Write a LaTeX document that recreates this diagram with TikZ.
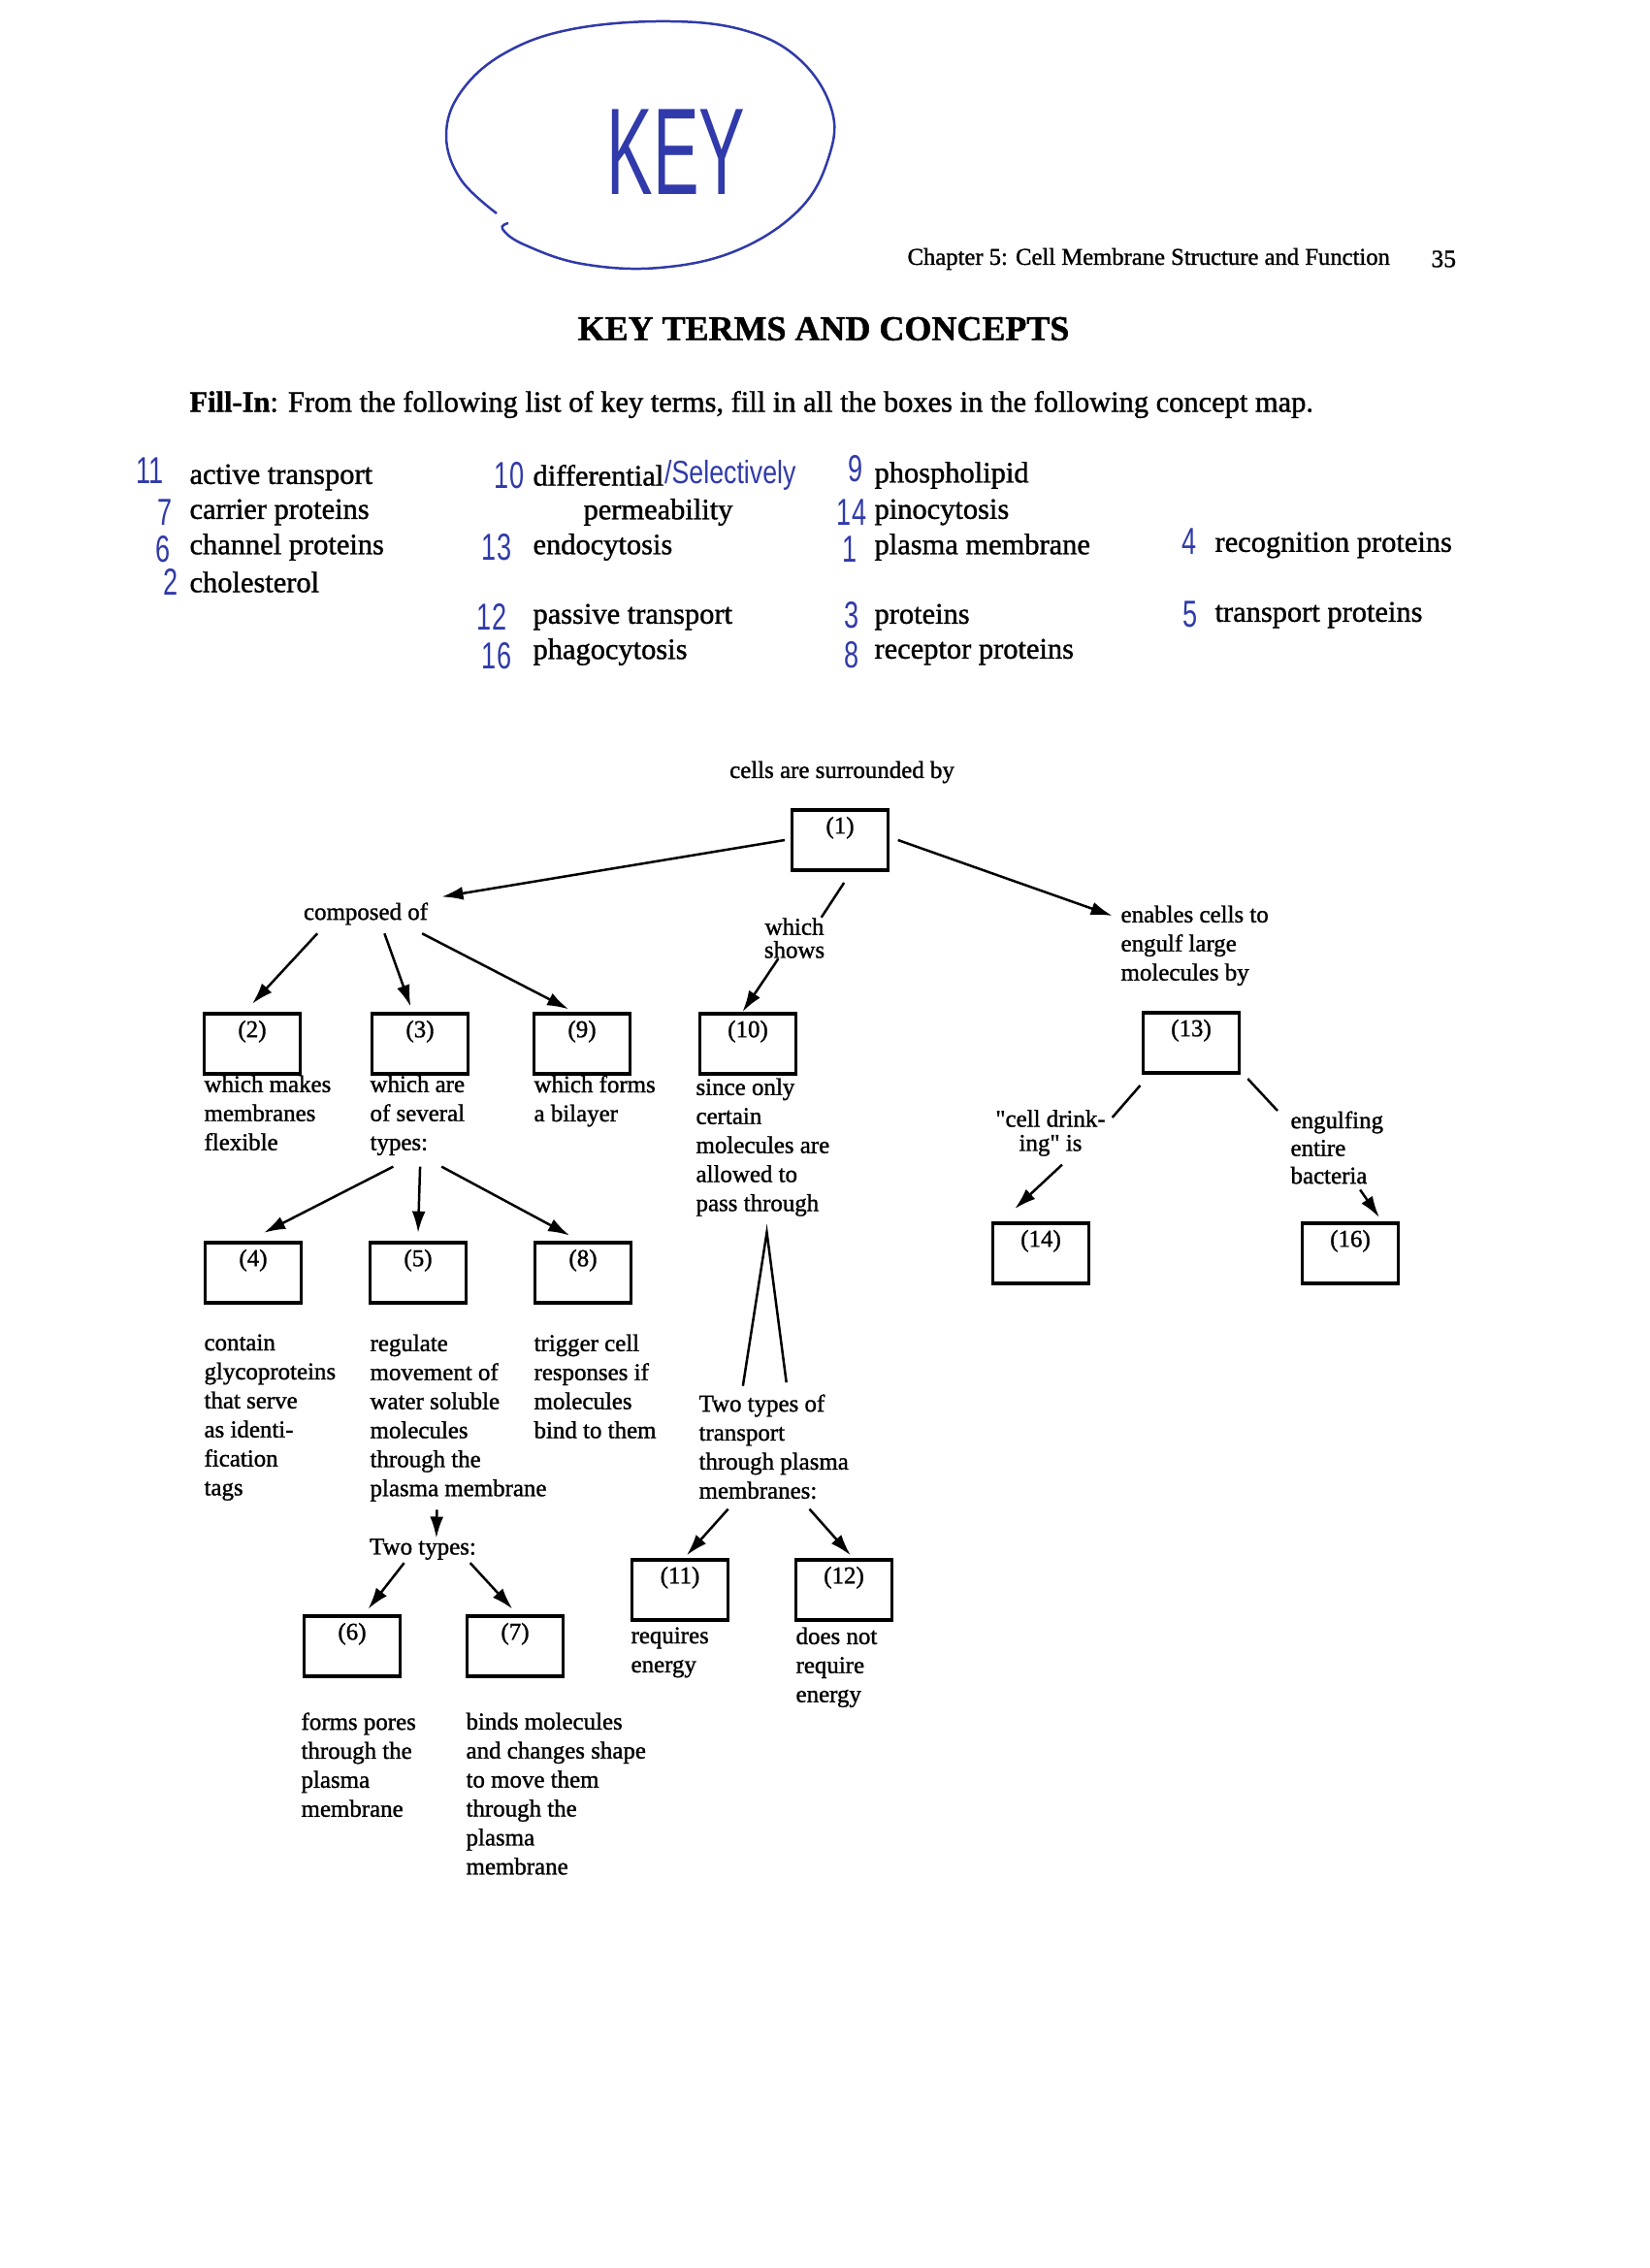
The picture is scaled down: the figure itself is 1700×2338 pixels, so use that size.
\documentclass[tikz,border=0pt]{standalone}
\usepackage{fontspec}
\usepackage{xcolor}
\usetikzlibrary{arrows.meta}
\setmainfont{Liberation Serif}
\newfontfamily\printfont[FakeBold=1.2]{Liberation Serif}
\newfontfamily\handfont{Liberation Sans}
\definecolor{ink}{RGB}{48,58,170}

\begin{document}
\begin{tikzpicture}[x=0.127mm, y=-0.127mm,
  maptext/.style={font=\printfont\fontsize{9}{10.8}\selectfont, inner sep=0pt, align=left, anchor=north west},
  boxnum/.style={font=\printfont\fontsize{9}{10.8}\selectfont, inner sep=0pt, anchor=north, yshift=-3pt},
  blank/.style={draw, line width=1.3pt, minimum width=12.6mm, minimum height=7.9mm, inner sep=0pt, label={[boxnum]north:(#1)}},
  term/.style={font=\printfont\fontsize{11}{13}\selectfont, inner sep=0pt, anchor=west},
  hand/.style={font=\handfont\fontsize{14}{14}\selectfont, text=ink, inner sep=0pt, xscale=0.7},
  link/.style={line width=0.9pt},
  arr/.style={link, -{Latex[length=8pt,width=5pt]}}]
  \useasboundingbox (0,0) rectangle (1700,2338);
  \fill[white] (0,0) rectangle (1700,2338);
  % the KEY mark
  \draw[ink, line width=0.9pt] plot[smooth, tension=0.65] coordinates {(512,220) (475,185) (460,140) (475,95) (520,55) (590,30) (690,22) (770,32) (825,62) (857,112) (855,160) (825,215) (760,258) (680,276) (600,272) (540,252) (518,236) (524,230)};
  \node[hand, font=\handfont\fontsize{46}{46}\selectfont, xscale=0.8] (key) at (697,157) {KEY};
  % page head
  \node[font=\printfont\fontsize{8.9}{11}\selectfont, anchor=west, inner sep=0pt] (chap) at (935,267) {Chapter 5: Cell Membrane Structure and Function};
  \node[font=\printfont\fontsize{9.2}{11}\selectfont, anchor=west, inner sep=0pt] (page) at (1475,267) {35};
  \node[font=\printfont\bfseries\fontsize{13}{15}\selectfont] (title) at (849,339) {KEY TERMS AND CONCEPTS};
  \node[term] (fill) at (195,417) {\textbf{Fill-In}: From the following list of key terms, fill in all the boxes in the following concept map.};
  % list of terms
  \node[term] (tact) at (195,492) {active transport};
  \node[term] (tcar) at (195,528) {carrier proteins};
  \node[term] (tchan) at (195,564) {channel proteins};
  \node[term] (tchol) at (195,600) {cholesterol};
  \node[term] (tdiff) at (549,490) {differential};
  \node[hand, anchor=west, font=\handfont\fontsize{12}{12}\selectfont, xscale=1.15] (sel) at (tdiff.east) {/Selectively};
  \node[term] (tperm) at (601,528) {permeability};
  \node[term] (tendo) at (549,564) {endocytosis};
  \node[term] (tpass) at (549,636) {passive transport};
  \node[term] (tphag) at (549,672) {phagocytosis};
  \node[term] (tphos) at (901,490) {phospholipid};
  \node[term] (tpino) at (901,528) {pinocytosis};
  \node[term] (tplas) at (901,564) {plasma membrane};
  \node[term] (tprot) at (901,636) {proteins};
  \node[term] (trec) at (901,672) {receptor proteins};
  \node[term] (trecog) at (1252,562) {recognition proteins};
  \node[term] (ttrans) at (1252,634) {transport proteins};
  % answers
  \node[hand] (n11) at (155,485) {11};
  \node[hand] (n7) at (170,528) {7};
  \node[hand] (n6) at (168,566) {6};
  \node[hand] (n2) at (176,600) {2};
  \node[hand] (n10) at (525,490) {10};
  \node[hand] (n13) at (512,564) {13};
  \node[hand] (n12) at (507,636) {12};
  \node[hand] (n16) at (512,676) {16};
  \node[hand] (n9) at (882,483) {9};
  \node[hand] (n14) at (878,528) {14};
  \node[hand] (n1) at (876,566) {1};
  \node[hand] (n3) at (878,634) {3};
  \node[hand] (n8) at (878,675) {8};
  \node[hand] (n4) at (1226,558) {4};
  \node[hand] (n5) at (1227,633) {5};
  % concept map
  \node[maptext, anchor=center] (surr) at (868,796) {cells are surrounded by};
  \node[blank=1] (b1) at (866,866) {};
  \node[maptext, anchor=center] (comp) at (377,942) {composed of};
  \node[maptext, anchor=center, align=center, font=\printfont\fontsize{9}{8.6}\selectfont] (shows) at (819,967) {which\\shows};
  \node[maptext] (enab) at (1155,933) {enables cells to\\engulf large\\molecules by};
  \node[blank=2] (b2) at (260,1076) {};
  \node[blank=3] (b3) at (433,1076) {};
  \node[blank=9] (b9) at (600,1076) {};
  \node[blank=10] (b10) at (771,1076) {};
  \node[blank=13] (b13) at (1228,1075) {};
  \node[maptext] (t2) at (210,1108) {which makes\\membranes\\flexible};
  \node[maptext] (t3) at (381,1108) {which are\\of several\\types:};
  \node[maptext] (t9) at (550,1108) {which forms\\a bilayer};
  \node[maptext] (t10) at (717,1111) {since only\\certain\\molecules are\\allowed to\\pass through};
  \node[maptext, anchor=center, align=center, font=\printfont\fontsize{9}{9}\selectfont] (drink) at (1083,1168) {"cell drink-\\ing" is};
  \node[maptext, font=\printfont\fontsize{9}{10.3}\selectfont] (eng) at (1330,1145) {engulfing\\entire\\bacteria};
  \node[blank=14] (b14) at (1073,1292) {};
  \node[blank=16] (b16) at (1392,1292) {};
  \node[blank=4] (b4) at (261,1312) {};
  \node[blank=5] (b5) at (431,1312) {};
  \node[blank=8] (b8) at (601,1312) {};
  \node[maptext] (t4) at (210,1375) {contain\\glycoproteins\\that serve\\as identi-\\fication\\tags};
  \node[maptext] (t5) at (381,1375) {regulate\\movement of\\water soluble\\molecules\\through the\\plasma membrane};
  \node[maptext] (t8) at (550,1375) {trigger cell\\responses if\\molecules\\bind to them};
  \node[maptext] (tt) at (720,1437) {Two types of\\transport\\through plasma\\membranes:};
  \node[blank=11] (b11) at (701,1639) {};
  \node[blank=12] (b12) at (870,1639) {};
  \node[maptext] (t11) at (650,1677) {requires\\energy};
  \node[maptext] (t12) at (820,1677) {does not\\require\\energy};
  \node[maptext, anchor=center] (twot) at (436,1597) {Two types:};
  \node[blank=6] (b6) at (363,1697) {};
  \node[blank=7] (b7) at (531,1697) {};
  \node[maptext] (t6) at (310,1765) {forms pores\\through the\\plasma\\membrane};
  \node[maptext] (t7) at (480,1765) {binds molecules\\and changes shape\\to move them\\through the\\plasma\\membrane};
  % connectors
  \draw[arr] ([xshift=-2pt]b1.west) -- ([xshift=5pt,yshift=2pt]comp.north east);
  \draw[arr] ([xshift=3pt]b1.east) -- ([xshift=-3pt,yshift=-4pt]enab.north west);
  \draw[link] ([xshift=1.5pt,yshift=-4pt]b1.south) -- ([xshift=10pt]shows.north);
  \draw[arr] ([xshift=-6pt]shows.south) -- ([xshift=-2pt]b10.north);
  \draw[arr] ([xshift=-18pt,yshift=-3pt]comp.south) -- ([yshift=3pt]b2.north);
  \draw[arr] ([xshift=7pt,yshift=-3pt]comp.south) -- ([xshift=-3.5pt,yshift=2pt]b3.north);
  \draw[arr] ([xshift=21pt,yshift=-3pt]comp.south) -- ([xshift=-5pt,yshift=1pt]b9.north);
  \draw[arr] ([xshift=-9pt,yshift=-4pt]t3.south) -- ([xshift=4pt,yshift=3pt]b4.north);
  \draw[arr] ([xshift=1pt,yshift=-4pt]t3.south) -- ([yshift=3pt]b5.north);
  \draw[arr] ([xshift=9pt,yshift=-4pt]t3.south) -- ([xshift=-5pt,yshift=2pt]b8.north);
  \draw[link] ([xshift=-19pt,yshift=-4pt]b13.south) -- ([xshift=23pt,yshift=-3pt]drink.north);
  \draw[arr] ([xshift=4.3pt,yshift=-3pt]drink.south) -- ([xshift=-9.7pt,yshift=4.7pt]b14.north);
  \draw[link] ([xshift=2.5pt,yshift=-1.5pt]b13.south east) -- ([xshift=-4.7pt]eng.north west);
  \draw[arr] ([xshift=8.6pt,yshift=-2pt]eng.south) -- ([xshift=10.8pt,yshift=1.5pt]b16.north);
  \coordinate (apex) at ([xshift=1.5pt,yshift=-5.8pt]t10.south);
  \draw[link] ([xshift=-11.5pt,yshift=3pt]tt.north) -- (apex) -- ([xshift=4.7pt,yshift=4.3pt]tt.north);
  \draw[arr] ([xshift=-17pt,yshift=-3.6pt]tt.south) -- ([xshift=2.5pt,yshift=1pt]b11.north);
  \draw[arr] ([xshift=13.3pt,yshift=-3.6pt]tt.south) -- ([xshift=2.5pt,yshift=1pt]b12.north);
  \draw[arr] ([xshift=-8pt,yshift=-3pt]t5.south) -- ([xshift=5pt]twot.north);
  \draw[arr] ([xshift=-7pt,yshift=-1pt]twot.south) -- ([xshift=6pt,yshift=2pt]b6.north);
  \draw[arr] ([xshift=17.6pt,yshift=-1pt]twot.south) -- ([xshift=-1pt,yshift=2pt]b7.north);
\end{tikzpicture}
\end{document}
